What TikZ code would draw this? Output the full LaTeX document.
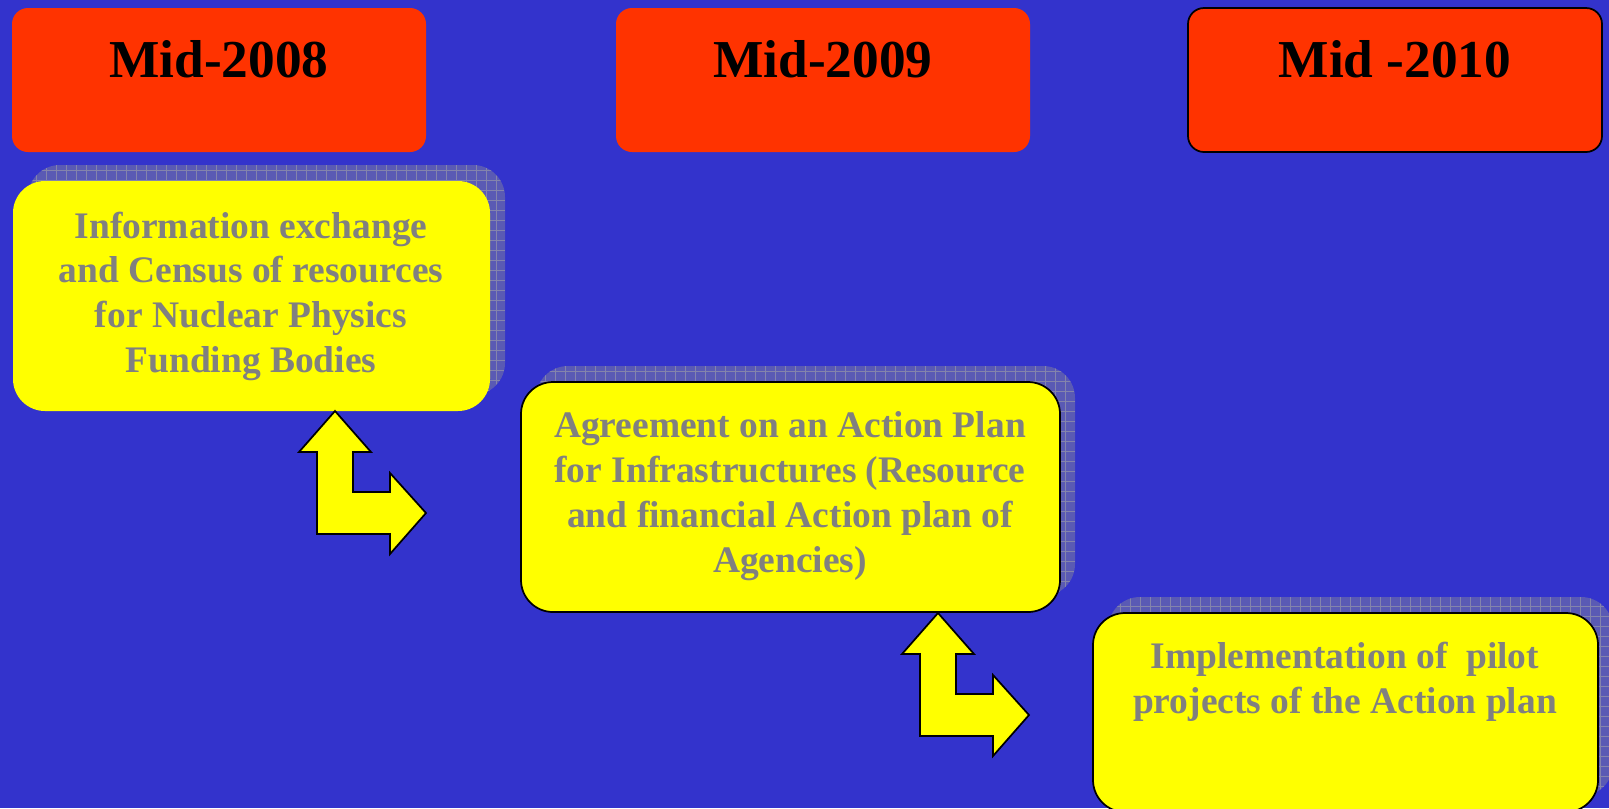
\documentclass[tikz,border=0pt]{standalone}
\usepackage{fontspec}
\setmainfont{Liberation Serif}
\definecolor{bg}{HTML}{3333CC}
\definecolor{redc}{HTML}{FF3300}
\definecolor{yel}{HTML}{FFFF00}
\definecolor{gtxt}{HTML}{808080}
\definecolor{shad}{HTML}{5A5AB4}
\definecolor{shadgrid}{HTML}{8484AC}
\begin{document}
\begin{tikzpicture}[x=0.75pt,y=-0.75pt,
  redbox/.style={fill=redc, rounded corners=12pt, minimum width=310.5pt, minimum height=108pt, inner sep=0pt},
  yelbox/.style={fill=yel, rounded corners=24pt, inner sep=0pt, minimum height=172.5pt},
  shadbox/.style={fill=shad, rounded corners=24pt, inner sep=0pt, minimum height=172.5pt,
    path picture={\draw[shadgrid, line width=0.4pt, step=7.5pt] (path picture bounding box.south west) grid (path picture bounding box.north east);}},
  border/.style={draw=black, line width=1.3pt},
  datetext/.style={anchor=base, inner sep=0pt, font=\fontsize{40}{48}\selectfont\bfseries, text=black},
  steptext/.style={anchor=base, inner sep=0pt, font=\fontsize{28.1}{33}\selectfont\bfseries, text=gtxt},
  arrowshape/.style={fill=yel, draw=black, line width=1.3pt, line join=miter}
]
\useasboundingbox (0,0) rectangle (1609,808);
\fill[bg] (0,0) rectangle (1609,808);

% date boxes
\node[redbox] (r1) at (219,80) {};
\node[redbox] (r2) at (823,80) {};
\node[redbox, border] (r3) at (1395,80) {};
\node[datetext] (d1) at (219,77) {Mid-2008};
\node[datetext] (d2) at (823,77) {Mid-2009};
\node[datetext] (d3) at (1395,77) {Mid -2010};

% shadows
\node[shadbox, minimum width=357.75pt] (s1) at (266.5,280) {};
\node[shadbox, minimum width=404.25pt] (s2) at (805.5,481) {};
\node[shadbox, minimum width=378.75pt, minimum height=149.25pt] (s3) at (1360.5,696.5) {};

% step boxes
\node[yelbox, minimum width=357.75pt] (y1) at (251.5,296) {};
\node[yelbox, border, minimum width=404.25pt] (y2) at (790.5,497) {};
\node[yelbox, border, minimum width=378.75pt, minimum height=149.25pt] (y3) at (1345.5,712.5) {};

\foreach \t [count=\i] in {Information exchange, and Census of resources, for Nuclear Physics, Funding Bodies}
  \node[steptext] (y1l\i) at (251, 238+44.7*\i-44.7) {\t};
\foreach \t [count=\i] in {Agreement on an Action Plan, for Infrastructures (Resource, and financial Action plan of, Agencies)}
  \node[steptext] (y2l\i) at (790, 437+45.3*\i-45.3) {\t};
\node[steptext] (y3l1) at (1345,668) {Implementation of~ pilot};
\node[steptext] (y3l2) at (1345,713) {projects of the Action plan};

% bent arrows
\coordinate (t1) at (335,411);
\coordinate (t2) at (938,613);
\foreach \c in {t1,t2}
  \draw[arrowshape, shift={(\c)}] (0,0) -- (36,41) -- (18,41) -- (18,81) -- (55,81) -- (55,62)
     -- (91,102) -- (55,143) -- (55,123) -- (-18,123) -- (-18,41) -- (-36,41) -- cycle;
\end{tikzpicture}
\end{document}
